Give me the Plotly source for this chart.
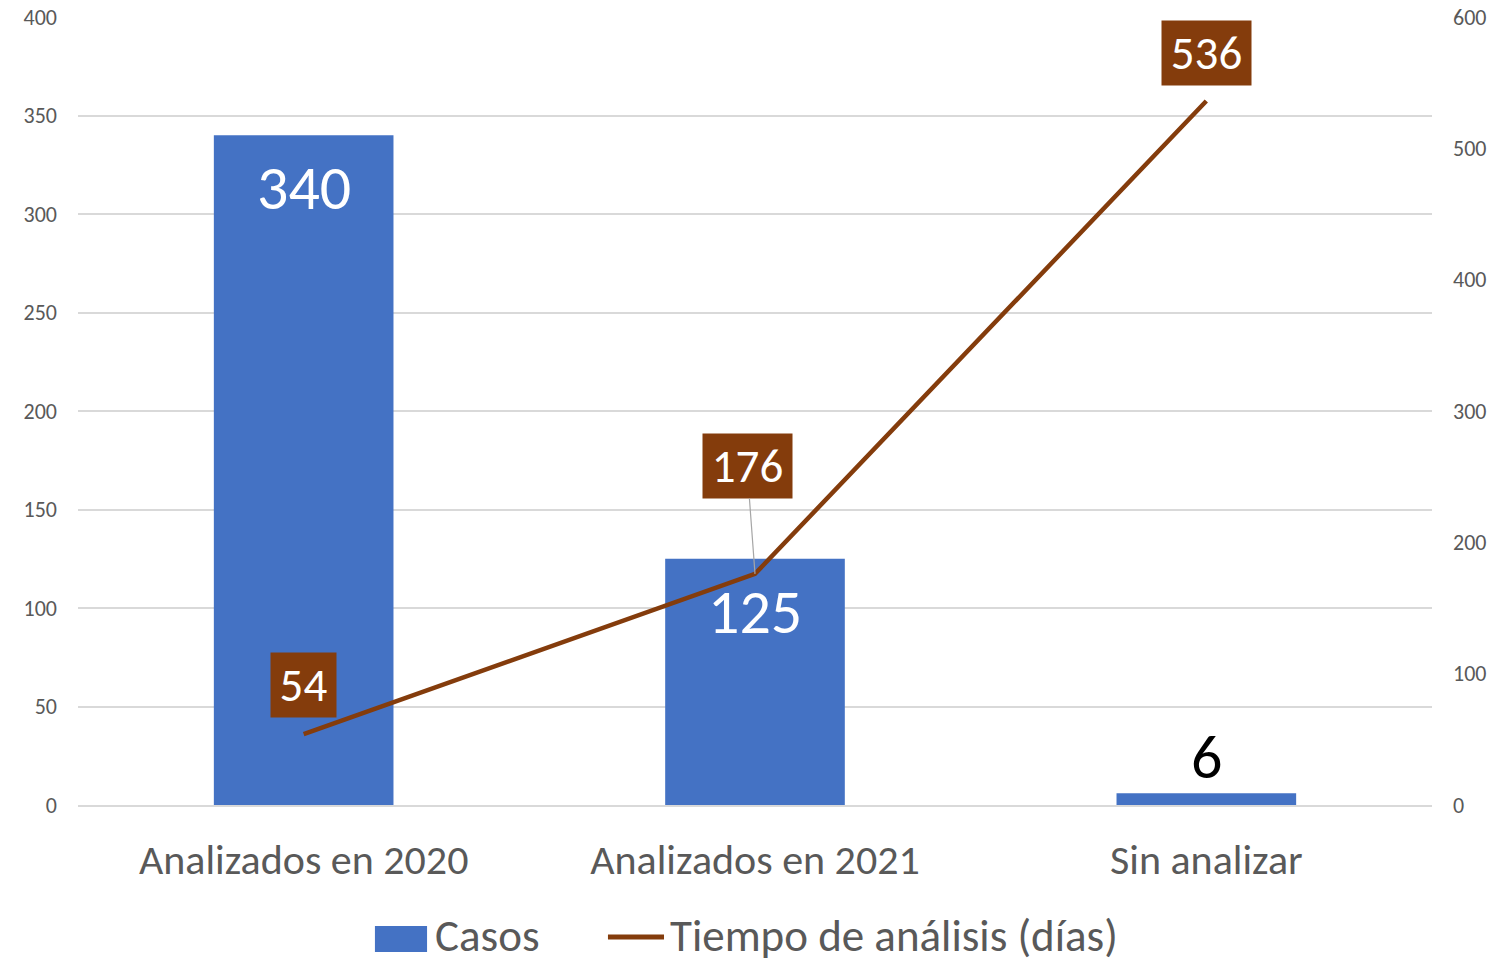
import plotly.graph_objects as go

# datos
categorias = ["Analizados en 2020", "Analizados en 2021", "Sin analizar"]
casos = [340, 125, 6]
tiempo_dias = [54, 176, 536]

azul = "#4472C4"
marron = "#843C0C"
gris = "#595959"
fuente = "Carlito, Lato, sans-serif"

fig = go.Figure()

fig.add_trace(go.Bar(
    x=categorias, y=casos, name="Casos",
    marker=dict(color=azul, line=dict(width=0)),
    showlegend=False,
))

fig.add_trace(go.Scatter(
    x=categorias, y=tiempo_dias, name="Tiempo de análisis (días)",
    mode="lines", line=dict(color=marron, width=4.5),
    yaxis="y2", showlegend=False,
))

# etiquetas de las barras
for cat, val in zip(categorias, casos):
    dentro = val > 50
    fig.add_annotation(
        x=cat, y=val, xref="x", yref="y",
        text=str(val), showarrow=False, yanchor="middle",
        yshift=-53 if dentro else 36,
        font=dict(size=62, color="white" if dentro else "black", family=fuente),
    )

# etiquetas de la linea
desplaz = [(0, -49), (-8, -108), (0, -48)]
for cat, val, (dx, dy) in zip(categorias, tiempo_dias, desplaz):
    s = str(val)
    fig.add_annotation(
        x=cat, y=val, xref="x", yref="y2",
        text=s, showarrow=True,
        arrowhead=0, arrowwidth=1.2,
        arrowcolor="#A6A6A6" if dx != 0 else "rgba(0,0,0,0)",
        ax=dx, ay=dy, standoff=0,
        bgcolor=marron, borderpad=6,
        width=24 * len(s) + 5, height=52,
        font=dict(size=47, color="white", family=fuente),
    )

# leyenda manual
fig.add_shape(type="rect", xref="paper", yref="paper",
              x0=0.2193, x1=0.2578, y0=-0.1865, y1=-0.1536,
              fillcolor=azul, line=dict(width=0))
fig.add_annotation(x=0.2622, y=-0.166, xref="paper", yref="paper",
                   text="Casos", showarrow=False, xanchor="left", yanchor="middle",
                   font=dict(size=45, color=gris, family=fuente))
fig.add_shape(type="line", xref="paper", yref="paper",
              x0=0.3914, x1=0.4328, y0=-0.1675, y1=-0.1675,
              line=dict(color=marron, width=5))
fig.add_annotation(x=0.4357, y=-0.166, xref="paper", yref="paper",
                   text="Tiempo de análisis (días)", showarrow=False,
                   xanchor="left", yanchor="middle",
                   font=dict(size=45, color=gris, family=fuente))

fig.update_layout(
    width=1511, height=962,
    margin=dict(l=78, r=79, t=17, b=157),
    plot_bgcolor="white", paper_bgcolor="white",
    bargap=0.602,
    font=dict(family=fuente, color=gris),
    xaxis=dict(
        tickfont=dict(size=42, color=gris),
        showgrid=False, showline=True, linecolor="#D9D9D9", linewidth=1.5,
        ticklabelstandoff=17, automargin=False,
    ),
    yaxis=dict(
        range=[0, 400], dtick=50,
        tickfont=dict(size=22, color=gris),
        gridcolor="#D9D9D9", gridwidth=1.5, zeroline=False,
        ticklabelstandoff=20, automargin=False,
    ),
    yaxis2=dict(
        range=[0, 600], dtick=100, overlaying="y", side="right",
        tickfont=dict(size=22, color=gris),
        showgrid=False, zeroline=False,
        ticklabelstandoff=20, automargin=False,
    ),
)

fig.write_html("out.html", config={"displayModeBar": False},
               post_script="document.body.style.margin='0';")
